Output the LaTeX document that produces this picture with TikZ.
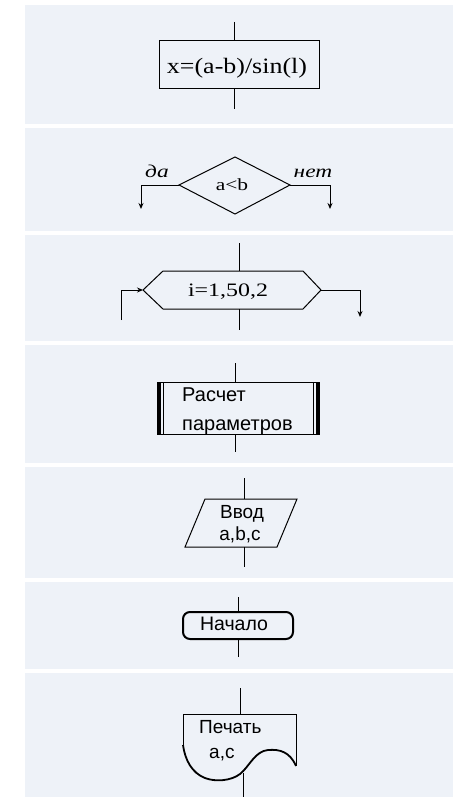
\documentclass[tikz,border=0pt]{standalone}
\usepackage{fontspec}
\setmainfont{Liberation Serif}
\newfontfamily\serifw[FakeStretch=1.18]{Liberation Serif}
\newfontfamily\serifx[FakeStretch=1.26]{Liberation Serif}
\newfontfamily\itw[FakeStretch=1.3]{Liberation Serif}
\newfontfamily\ars{Liberation Sans}
\usetikzlibrary{arrows.meta}
\definecolor{panelc}{RGB}{238,242,248}
\begin{document}
\begin{tikzpicture}[x=1pt,y=-1pt,
  ln/.style={line width=1pt,draw=black},
  arr/.style={line width=1pt,-{Stealth[length=6pt,width=5pt]}},
  lbl/.style={inner sep=0pt,anchor=base},
  lblw/.style={inner sep=0pt,anchor=base west}]
\useasboundingbox (0,0) rectangle (460,797);
\fill[white] (0,0) rectangle (460,797);
\foreach \a/\b in {5/124,128/231,235/341,345/463,467/578,582/669,673/797}
  \fill[panelc] (25,\a) rectangle (453,\b);

% 1: process
\coordinate (aIn) at (234,22);
\coordinate (aTop) at (234,41);
\coordinate (aBot) at (234,89);
\coordinate (aOut) at (234,109);
\draw[ln] (159,41) rectangle (319,89);
\node[lbl,font=\serifw\fontsize{22pt}{24pt}\selectfont] (aTxt) at (237,74) {x=(a-b)/sin(l)};
\draw[ln] (aIn) -- (aTop);
\draw[ln] (aBot) -- (aOut);

% 2: decision
\coordinate (bL) at (179,185);
\coordinate (bT) at (235,157);
\coordinate (bR) at (290,185);
\coordinate (bB) at (235,214);
\draw[ln] (bL) -- (bT) -- (bR) -- (bB) -- cycle;
\node[lbl,font=\serifx\fontsize{17pt}{20pt}\selectfont] (bTxt) at (232,190) {a<b};
\coordinate (bYc) at (141,185);
\coordinate (bYe) at (141,209);
\coordinate (bNc) at (330,185);
\coordinate (bNe) at (330,209);
\draw[arr] (bL) -- (bYc) -- (bYe);
\draw[arr] (bR) -- (bNc) -- (bNe);
\node[lbl,font=\itw\itshape\fontsize{18pt}{20pt}\selectfont] (bYes) at (157,177) {да};
\node[lbl,font=\itw\itshape\fontsize{18pt}{20pt}\selectfont] (bNo) at (313,177) {нет};

% 3: loop (hexagon)
\coordinate (cL) at (143,290);
\coordinate (cR) at (321,290);
\draw[ln] (163,271) -- (303,271) -- (cR) -- (303,309) -- (163,309) -- (cL) -- cycle;
\node[lbl,font=\serifx\fontsize{19pt}{20pt}\selectfont] (cTxt) at (228,296) {i=1,50,2};
\coordinate (cIn) at (239,243);
\coordinate (cTop) at (239,271);
\coordinate (cBot) at (239,309);
\coordinate (cOut) at (239,330);
\draw[ln] (cIn) -- (cTop);
\draw[ln] (cBot) -- (cOut);
\coordinate (cBack) at (121,320);
\coordinate (cBackc) at (121,290);
\draw[arr] (cBack) -- (cBackc) -- (cL);
\coordinate (cExc) at (360,290);
\coordinate (cExe) at (360,317);
\draw[arr] (cR) -- (cExc) -- (cExe);

% 4: predefined process
\draw[ln] (157,382) rectangle (319,434);
\fill (157,382) rectangle (160.5,434);
\fill (315.5,382) rectangle (319,434);
\draw[ln] (163,382) -- (163,434);
\draw[ln] (313,382) -- (313,434);
\node[lblw,font=\ars\fontsize{20pt}{24pt}\selectfont] (dTxt1) at (182,401) {Расчет};
\node[lblw,font=\ars\fontsize{20pt}{24pt}\selectfont] (dTxt2) at (182,430) {параметров};
\coordinate (dIn) at (235,363);
\coordinate (dTop) at (235,382);
\coordinate (dBot) at (235,434);
\coordinate (dOut) at (235,452);
\draw[ln] (dIn) -- (dTop);
\draw[ln] (dBot) -- (dOut);

% 5: input (parallelogram)
\draw[ln] (205,499) -- (297,499) -- (277,547) -- (185,547) -- cycle;
\node[lbl,font=\ars\fontsize{19pt}{22pt}\selectfont] (eTxt1) at (242,518) {Ввод};
\node[lbl,font=\ars\fontsize{19pt}{22pt}\selectfont] (eTxt2) at (240,540) {a,b,c};
\coordinate (eIn) at (244,478);
\coordinate (eTop) at (244,499);
\coordinate (eBot) at (244,547);
\coordinate (eOut) at (244,567);
\draw[ln] (eIn) -- (eTop);
\draw[ln] (eBot) -- (eOut);

% 6: terminal
\draw[line width=2pt,rounded corners=7pt] (183,612) rectangle (293,639);
\node[lbl,font=\ars\fontsize{19.5pt}{22pt}\selectfont] (fTxt) at (234,630) {Начало};
\coordinate (fIn) at (238,597);
\coordinate (fTop) at (238,611);
\coordinate (fBot) at (238,640);
\coordinate (fOut) at (238,657);
\draw[ln] (fIn) -- (fTop);
\draw[ln] (fBot) -- (fOut);

% 7: document
\draw[ln] (183,745) -- (183,714) -- (296,714) -- (296,766);
\draw[line width=1.8pt] (296,766) .. controls (290,752) and (280,749) .. (268,750)
  .. controls (255,751) and (249,767) .. (240,774)
  .. controls (231,781) and (215,782) .. (205,778)
  .. controls (192,773) and (185,760) .. (183,745);
\node[lblw,font=\ars\fontsize{19pt}{22pt}\selectfont] (gTxt1) at (199,733) {Печать};
\node[lblw,font=\ars\fontsize{19pt}{22pt}\selectfont] (gTxt2) at (209,758) {a,c};
\coordinate (gIn) at (240,688);
\coordinate (gTop) at (240,714);
\coordinate (gBot) at (243,773);
\coordinate (gOut) at (243,797);
\draw[ln] (gIn) -- (gTop);
\draw[ln] (gBot) -- (gOut);
\end{tikzpicture}
\end{document}
